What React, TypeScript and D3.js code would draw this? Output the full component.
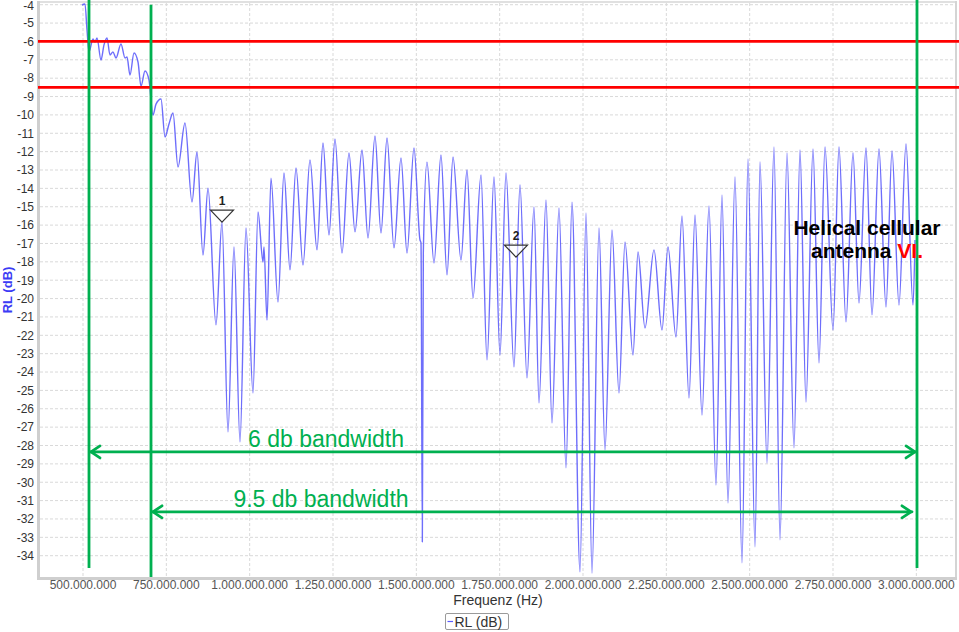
import { useEffect, useRef } from 'react'
import * as d3 from 'd3'

// trace: frequency in MHz, return loss in dB
const FREQ_MHZ = [
  497, 506, 512, 518, 530, 536, 542, 554, 563, 572, 581, 590, 599, 614, 626, 632, 641, 653, 665, 674,
  686, 698, 710, 719, 734, 746, 758, 770, 785, 806, 827, 842, 860, 875, 899, 917, 935, 953, 971, 989,
  1010, 1025, 1040, 1043, 1052, 1064, 1085, 1103, 1121, 1139, 1160, 1181, 1202, 1220, 1238, 1256, 1277, 1298, 1316, 1337,
  1355, 1376, 1394, 1412, 1433, 1454, 1472, 1493, 1511, 1514, 1518, 1521, 1532, 1553, 1574, 1592, 1610, 1634, 1652, 1670,
  1694, 1712, 1733, 1751, 1769, 1793, 1811, 1832, 1853, 1868, 1889, 1907, 1928, 1949, 1967, 1991, 2009, 2027, 2048, 2066,
  2087, 2108, 2126, 2150, 2165, 2186, 2213, 2237, 2255, 2279, 2297, 2318, 2336, 2357, 2378, 2399, 2417, 2435, 2456, 2477,
  2495, 2516, 2531, 2552, 2573, 2591, 2612, 2633, 2651, 2669, 2690, 2708, 2726, 2750, 2768, 2789, 2810, 2828, 2849, 2867,
  2888, 2909, 2927, 2948, 2969, 2990, 2996,
]
const RL_DB = [
  -4.02, -3.96, -5.38, -6.57, -5.87, -6.03, -5.81, -7.01, -6.19, -5.81, -6.74, -6.57, -6.9, -6.14, -6.9, -6.85, -7.83, -6.63, -7.12, -8.43,
  -7.61, -8.1, -10.01, -9.41, -9.13, -11.2, -10.49, -9.9, -12.84, -10.44, -14.75, -12.02, -17.63, -13.99, -21.43, -15.84, -27.26, -17.19, -27.8, -16.16,
  -25.14, -15.29, -18.01, -17.19, -21.17, -13.44, -20.19, -13.16, -18.44, -12.89, -18.17, -12.45, -17.35, -11.53, -16.54, -11.31, -17.52, -12.07, -16.37, -11.91,
  -16.7, -11.15, -16.43, -11.26, -17.24, -12.34, -17.52, -11.8, -16.81, -16.97, -33.25, -17.5, -12.57, -18.06, -12.18, -18.71, -12.29, -17.9, -13.0, -19.97,
  -13.27, -23.34, -13.38, -23.07, -13.16, -23.72, -13.81, -24.32, -15.01, -25.68, -14.63, -26.77, -15.07, -29.22, -14.75, -34.88, -15.34, -34.94, -16.16, -28.24,
  -16.27, -25.14, -16.92, -23.07, -17.46, -21.6, -17.35, -21.71, -17.19, -22.09, -15.5, -25.41, -15.45, -26.34, -14.96, -30.15, -14.36, -31.13, -13.38, -34.39,
  -12.4, -33.52, -12.56, -28.95, -11.75, -33.14, -12.07, -28.13, -11.91, -25.63, -11.86, -23.5, -11.75, -21.71, -11.75, -21.27, -12.07, -20.24, -11.8, -20.89,
  -11.86, -20.46, -11.96, -20.35, -11.58, -20.35, -16.81,
]

const X_TICKS_MHZ = [500, 750, 1000, 1250, 1500, 1750, 2000, 2250, 2500, 2750, 3000]
const Y_TICKS = [-4, -5, -6, -7, -8, -9, -10, -11, -12, -13, -14, -15, -16, -17, -18, -19,
  -20, -21, -22, -23, -24, -25, -26, -27, -28, -29, -30, -31, -32, -33, -34]

const MARKERS = [
  { label: '1', freq: 917, db: -15.84 },
  { label: '2', freq: 1799, db: -17.74 },
]
const LIMIT_LINES_DB = [-6, -8.5]
const BAND_EDGES = [
  { freq: 518, top: -3.75, bottom: -34.67 },
  { freq: 704, top: -4.0, bottom: -35.16 },
  { freq: 3002, top: -3.75, bottom: -34.67 },
]
const BANDWIDTHS = [
  { label: '6 db bandwidth', from: 518, to: 3002, db: -28.35, textFreq: 1229 },
  { label: '9.5 db bandwidth', from: 704, to: 2990, db: -31.61, textFreq: 1214 },
]

const GREEN = '#00b050'
const RED = '#ff0000'
const FONT = 'Liberation Sans, Arial, sans-serif'

export default function App() {
  const svgRef = useRef<SVGSVGElement>(null)
  const WIDTH = 959
  const HEIGHT = 632
  const L = 40, R = 956, T = 3, B = 577

  useEffect(() => {
    if (!svgRef.current) return
    const svg = d3.select(svgRef.current)
    svg.selectAll('*').remove()

    const x = d3.scaleLinear().domain([371e6, 3119e6]).range([L, R])
    const y = d3.scaleLinear().domain([-3.907, -35.16]).range([T, B])

    svg.append('rect').attr('width', WIDTH).attr('height', HEIGHT).attr('fill', '#fff')

    // grid
    const grid = svg.append('g')
    Y_TICKS.forEach(v => {
      grid.append('line').attr('x1', L).attr('x2', R).attr('y1', y(v)).attr('y2', y(v))
        .attr('stroke', '#d9d9d9').attr('stroke-width', 1).attr('stroke-dasharray', '3 2')
    })
    X_TICKS_MHZ.forEach(v => {
      grid.append('line').attr('x1', x(v * 1e6)).attr('x2', x(v * 1e6)).attr('y1', T).attr('y2', B)
        .attr('stroke', '#d9d9d9').attr('stroke-width', 1).attr('stroke-dasharray', '3 2')
    })

    // frame
    svg.append('line').attr('x1', L).attr('x2', R).attr('y1', T - 1).attr('y2', T - 1)
      .attr('stroke', '#e0e0e0').attr('stroke-width', 2)
    svg.append('line').attr('x1', R).attr('x2', R).attr('y1', T - 2).attr('y2', B + 1)
      .attr('stroke', '#d4d4d4').attr('stroke-width', 2)
    svg.append('line').attr('x1', L - 1.5).attr('x2', L - 1.5).attr('y1', T - 2).attr('y2', B + 2)
      .attr('stroke', '#cfcfcf').attr('stroke-width', 3)
    svg.append('line').attr('x1', L - 3).attr('x2', R + 1).attr('y1', B + 1.5).attr('y2', B + 1.5)
      .attr('stroke', '#cfcfcf').attr('stroke-width', 3)

    // tick labels
    Y_TICKS.forEach(v => {
      svg.append('text').attr('x', 34).attr('y', Math.max(y(v), 5.5)).attr('dy', '0.36em')
        .attr('text-anchor', 'end').attr('font-family', FONT).attr('font-size', 12)
        .attr('fill', '#333').text(v)
    })
    const fmt = (v: number) => d3.format(',')(v).replace(/,/g, '.')
    X_TICKS_MHZ.forEach(v => {
      svg.append('text').attr('x', x(v * 1e6)).attr('y', 589)
        .attr('text-anchor', 'middle').attr('font-family', FONT).attr('font-size', 12)
        .attr('fill', '#555').text(fmt(v * 1e6))
    })

    svg.append('text').attr('x', (L + R) / 2).attr('y', 605)
      .attr('text-anchor', 'middle').attr('font-family', FONT).attr('font-size', 14)
      .attr('fill', '#333').text('Frequenz (Hz)')
    svg.append('text').attr('transform', 'rotate(-90)').attr('x', -290).attr('y', 12)
      .attr('text-anchor', 'middle').attr('font-family', FONT).attr('font-size', 13)
      .attr('font-weight', 'bold').attr('fill', '#3b3bf5').text('RL (dB)')

    // trace
    const pts = FREQ_MHZ.map((f, i) => [f * 1e6, RL_DB[i]] as [number, number])
    const line = d3.line<[number, number]>()
      .x(d => x(d[0])).y(d => y(d[1]))
      .curve(d3.curveMonotoneX)
    svg.append('path').attr('d', line(pts))
      .attr('fill', 'none').attr('stroke', '#5555fa').attr('stroke-opacity', 0.85)
      .attr('stroke-width', 1.4).attr('stroke-linejoin', 'round')

    // markers
    MARKERS.forEach(m => {
      const mx = x(m.freq * 1e6), my = y(m.db)
      svg.append('path')
        .attr('d', `M${mx - 11.5},${my - 12}L${mx + 11.5},${my - 12}L${mx},${my}Z`)
        .attr('fill', '#fff').attr('fill-opacity', 0.6).attr('stroke', '#333').attr('stroke-width', 1.2)
      svg.append('text').attr('x', mx).attr('y', my - 17).attr('text-anchor', 'middle')
        .attr('font-family', FONT).attr('font-size', 12).attr('font-weight', 'bold')
        .attr('fill', '#222').text(m.label)
    })

    // limit lines
    LIMIT_LINES_DB.forEach(v => {
      svg.append('line').attr('x1', L - 2).attr('x2', WIDTH).attr('y1', y(v)).attr('y2', y(v))
        .attr('stroke', RED).attr('stroke-width', 2.8)
    })

    // band edges
    BAND_EDGES.forEach(e => {
      svg.append('line').attr('x1', x(e.freq * 1e6)).attr('x2', x(e.freq * 1e6))
        .attr('y1', y(e.top)).attr('y2', y(e.bottom))
        .attr('stroke', GREEN).attr('stroke-width', 2.8)
    })

    // bandwidth arrows
    BANDWIDTHS.forEach(b => {
      const x1 = x(b.from * 1e6), x2 = x(b.to * 1e6), yy = y(b.db)
      const g = svg.append('g').attr('stroke', GREEN).attr('stroke-width', 2.8)
        .attr('fill', 'none').attr('stroke-linecap', 'round').attr('stroke-linejoin', 'round')
      g.append('line').attr('x1', x1 + 1).attr('x2', x2 - 1).attr('y1', yy).attr('y2', yy)
      g.append('path').attr('d', `M${x1 + 11},${yy - 6}L${x1 + 2},${yy}L${x1 + 11},${yy + 6}`)
      g.append('path').attr('d', `M${x2 - 11},${yy - 6}L${x2 - 2},${yy}L${x2 - 11},${yy + 6}`)
      svg.append('text').attr('x', x(b.textFreq * 1e6)).attr('y', yy - 5)
        .attr('text-anchor', 'middle').attr('font-family', FONT).attr('font-size', 23)
        .attr('fill', GREEN).text(b.label)
    })

    // antenna label
    const lx = x(2852e6)
    const t1 = svg.append('text').attr('x', lx).attr('y', y(-16.54))
      .attr('text-anchor', 'middle').attr('font-family', FONT).attr('font-size', 21)
      .attr('font-weight', 'bold').attr('fill', '#000')
    t1.text('Helical cellular')
    const t2 = svg.append('text').attr('x', lx).attr('y', y(-16.54) + 23)
      .attr('text-anchor', 'middle').attr('font-family', FONT).attr('font-size', 21)
      .attr('font-weight', 'bold').attr('fill', '#000')
    t2.append('tspan').text('antenna ')
    t2.append('tspan').attr('fill', RED).text('VI.')

    // legend
    const lg = svg.append('g').attr('transform', 'translate(445,613)')
    lg.append('rect').attr('x', 0.5).attr('y', 0.5).attr('width', 63).attr('height', 16)
      .attr('fill', '#fff').attr('stroke', '#9a9a9a').attr('rx', 1.5)
    lg.append('line').attr('x1', 2.5).attr('x2', 8).attr('y1', 8.5).attr('y2', 8.5)
      .attr('stroke', '#5a5aff').attr('stroke-width', 1.2)
    lg.append('text').attr('x', 9.5).attr('y', 13.5).attr('font-family', FONT)
      .attr('font-size', 14).attr('fill', '#333').text('RL (dB)')
  }, [])

  return (
    <svg
      ref={svgRef}
      width={WIDTH}
      height={HEIGHT}
      style={{ position: 'absolute', left: 0, top: 0, display: 'block' }}
    />
  )
}
